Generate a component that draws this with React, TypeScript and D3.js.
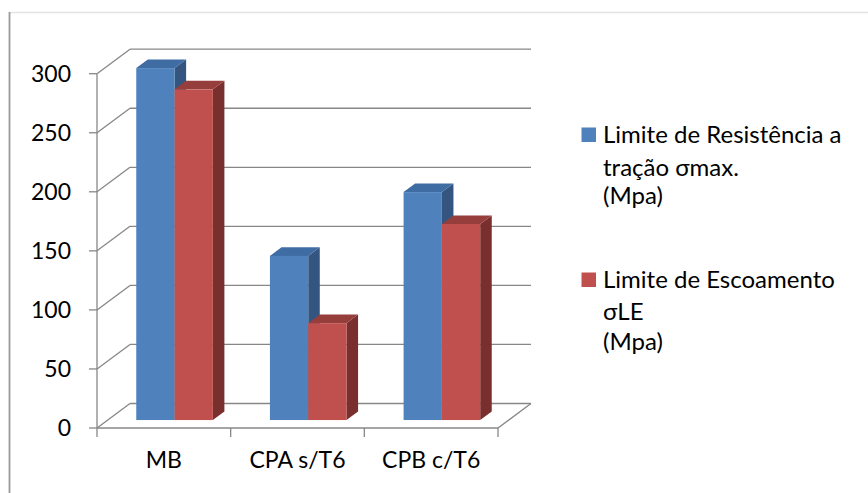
import React from "react";
import * as d3 from "d3";

// Categories and series values (MPa)
const categories = ["MB", "CPA s/T6", "CPB c/T6"];
const seriesKeys = ["resistencia", "escoamento"];
const resistencia = [298, 139, 193];
const escoamento = [280, 82, 166];
const yTicks = [0, 50, 100, 150, 200, 250, 300];
const legendLabels = [
  ["Limite de Resistência a", "tração σmax.", "(Mpa)"],
  ["Limite de Escoamento", "σLE", "(Mpa)"],
];

const W = 868;
const H = 493;
const FONT = "Lato, 'Noto Sans', sans-serif";
const GRID = "#878787";

// Front plane of the 3D plot area and the depth vector of the floor
const X0 = 97;
const X1 = 498;
const Y_BASE = 428;
const Y_TOP = 73.7;
const DX = 33;
const DY = -24.5;
// Bars sit between these fractions of the floor depth
const D0 = 0.325;
const D1 = 0.675;

const palettes = [
  { front: "#4F81BD", top: "#3F6CA3", side: "#34557F" },
  { front: "#C0504D", top: "#963E3B", side: "#782F2D" },
];

export default function App() {
  const x = d3.scaleBand<string>().domain(categories).range([X0, X1]).padding(0);
  const xs = d3
    .scaleBand<string>()
    .domain(seriesKeys)
    .range([0, x.bandwidth()])
    .paddingInner(0)
    .paddingOuter(0.745);
  const y = d3.scaleLinear().domain([0, 300]).range([Y_BASE, Y_TOP]);

  const values = [resistencia, escoamento];
  const pts = (arr: [number, number][]) => arr.map((p) => p.join(",")).join(" ");

  const bars: React.ReactNode[] = [];
  categories.forEach((cat, ci) => {
    seriesKeys.forEach((key, si) => {
      const v = values[si][ci];
      const xl = (x(cat) ?? 0) + (xs(key) ?? 0);
      const xr = xl + xs.bandwidth();
      const ax = D0 * DX, ay = D0 * DY;
      const bx = D1 * DX, by = D1 * DY;
      const yb = y(0);
      const yt = y(v);
      const c = palettes[si];
      bars.push(
        <g key={`${cat}-${key}`}>
          <polygon
            points={pts([[xr + ax, yb + ay], [xr + bx, yb + by], [xr + bx, yt + by], [xr + ax, yt + ay]])}
            fill={c.side}
          />
          <polygon
            points={pts([[xl + ax, yt + ay], [xr + ax, yt + ay], [xr + bx, yt + by], [xl + bx, yt + by]])}
            fill={c.top}
          />
          <rect x={xl + ax} y={yt + ay} width={xr - xl} height={yb - yt} fill={c.front} />
        </g>
      );
    });
  });

  const boundaries = [...categories.map((c) => x(c) ?? 0), X1];

  return (
    <div style={{ position: "fixed", left: 0, top: 0 }}>
      <svg width={W} height={H} style={{ display: "block", background: "#fff" }}>
        {/* outer frame */}
        <line x1={9} y1={12.5} x2={W} y2={12.5} stroke="#e3e3e3" strokeWidth={1.5} />
        <line x1={9.5} y1={12} x2={9.5} y2={H} stroke="#9a9a9a" strokeWidth={1.8} />

        {/* side wall and back wall gridlines */}
        {yTicks.map((t) => (
          <g key={`grid-${t}`} stroke={GRID} strokeWidth={1.3} fill="none">
            <line x1={X0} y1={y(t)} x2={X0 + DX} y2={y(t) + DY} />
            <line x1={X0 + DX} y1={y(t) + DY} x2={X1 + DX} y2={y(t) + DY} />
          </g>
        ))}
        {/* floor right edge */}
        <line x1={X1} y1={Y_BASE} x2={X1 + DX} y2={Y_BASE + DY} stroke={GRID} strokeWidth={1.3} />

        {/* bars */}
        {bars}

        {/* value axis */}
        <g stroke={GRID} strokeWidth={1.3}>
          <line x1={X0} y1={y(300)} x2={X0} y2={Y_BASE} />
          {yTicks.map((t) => (
            <line key={`yt-${t}`} x1={X0 - 8} y1={y(t)} x2={X0} y2={y(t)} />
          ))}
          <line x1={X0} y1={Y_BASE} x2={X1} y2={Y_BASE} />
          {boundaries.map((b, i) => (
            <line key={`xt-${i}`} x1={b} y1={Y_BASE} x2={b} y2={Y_BASE + 9} />
          ))}
        </g>
        <g fontFamily={FONT} fontSize={23} fill="#000">
          {yTicks.map((t) => (
            <text key={`yl-${t}`} x={71} y={y(t) + 8} textAnchor="end">
              {t}
            </text>
          ))}
          {categories.map((c) => (
            <text key={`xl-${c}`} x={(x(c) ?? 0) + x.bandwidth() / 2} y={468} textAnchor="middle">
              {c}
            </text>
          ))}
        </g>

        {/* legend */}
        <g fontFamily={FONT} fontSize={24} fill="#000">
          {legendLabels.map((lines, i) => {
            const top = i === 0 ? 143 : 288;
            const offs = i === 0 ? [0, 33, 61] : [0, 32, 62];
            return (
              <g key={`lg-${i}`}>
                <rect x={581.5} y={top - 15.5} width={14.5} height={14.5} fill={palettes[i].front} />
                {lines.map((ln, j) => (
                  <text key={j} x={603} y={top + offs[j]}>
                    {ln}
                  </text>
                ))}
              </g>
            );
          })}
        </g>
      </svg>
    </div>
  );
}
